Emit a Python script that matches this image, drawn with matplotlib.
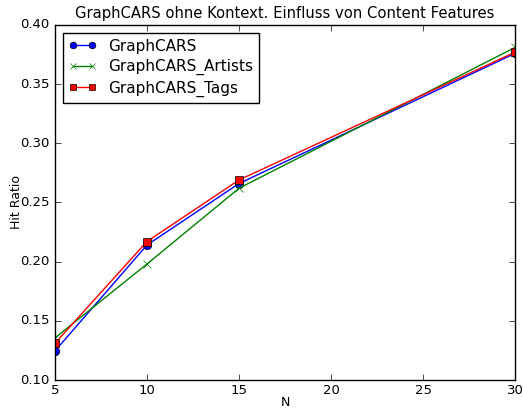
import matplotlib
matplotlib.use("Agg")
import matplotlib.pyplot as plt

plt.style.use('classic')

n_values = [5, 10, 15, 30]
graphcars = [0.1245, 0.214, 0.266, 0.376]
graphcars_artists = [0.1355, 0.198, 0.262, 0.381]
graphcars_tags = [0.131, 0.217, 0.269, 0.377]
x_ticks = [5, 10, 15, 20, 25, 30]
y_ticks = [0.10, 0.15, 0.20, 0.25, 0.30, 0.35, 0.40]

fig = plt.figure(figsize=(5.23, 4.11), dpi=100, facecolor='white')
ax = fig.add_axes([0.105, 0.0754, 0.880, 0.864])

ax.plot(n_values, graphcars, 'b-o', label='GraphCARS', markersize=6, linewidth=1)
ax.plot(n_values, graphcars_artists, 'g-x', label='GraphCARS_Artists', markersize=6, linewidth=1)
ax.plot(n_values, graphcars_tags, 'r-s', label='GraphCARS_Tags', markersize=6, linewidth=1)

ax.set_xlim(5, 30)
ax.set_ylim(0.10, 0.40)
ax.set_xticks(x_ticks)
ax.set_yticks(y_ticks)
ax.set_yticklabels([f"{v:.2f}" for v in y_ticks])
ax.tick_params(labelsize=9.5)
ax.tick_params(axis='x', pad=3)
ax.set_xlabel('N', fontsize=9, labelpad=-1)
ax.set_ylabel('Hit Ratio', fontsize=9, labelpad=-2)
ax.set_title('GraphCARS ohne Kontext. Einfluss von Content Features', fontsize=10.6)
ax.legend(loc='upper left', fontsize=11, numpoints=2, markerscale=0.8,
          handlelength=1.8, labelspacing=0.35)

fig.savefig('out.png', dpi=100, facecolor='white')
